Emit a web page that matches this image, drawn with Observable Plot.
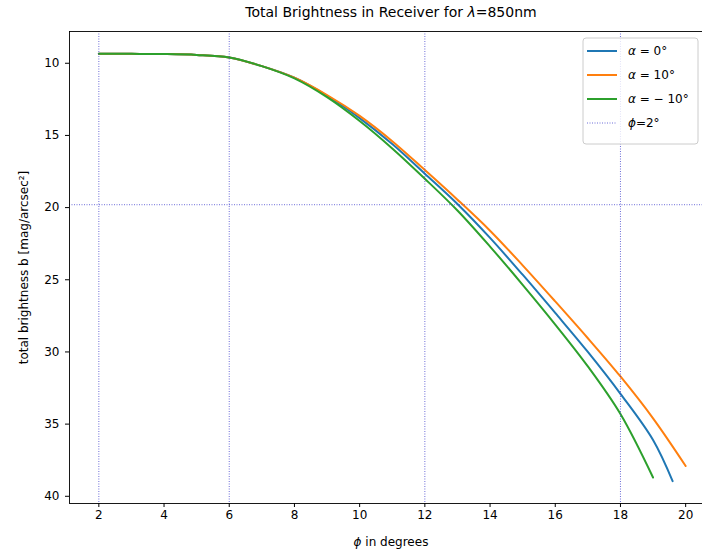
<!DOCTYPE html>
<html>
<head>
<meta charset="utf-8">
<script src="https://cdn.jsdelivr.net/npm/d3@7"></script>
<script src="https://cdn.jsdelivr.net/npm/@observablehq/plot@0.6"></script>
<style>
  html, body { margin: 0; padding: 0; background: white; }
  #chart svg { display: block; }
</style>
</head>
<body>
<div id="chart"></div>
<script>
// ---- data ----
const phiBlue   = [2,3,4,5,6,7,8,9,10,11,12,13,14,15,16,17,18,19,19.6];
const bBlue     = [9.35,9.35,9.36,9.42,9.6,10.2,11.0,12.25,13.8,15.6,17.65,19.75,22.1,24.65,27.3,30.0,32.9,36.1,38.95];
const phiOrange = [2,3,4,5,6,7,8,9,10,11,12,13,14,15,16,17,18,19,20];
const bOrange   = [9.35,9.35,9.36,9.42,9.6,10.2,11.0,12.2,13.65,15.4,17.4,19.45,21.6,24.0,26.5,29.05,31.7,34.6,37.9];
const phiGreen  = [2,3,4,5,6,7,8,9,10,11,12,13,14,15,16,17,18,19];
const bGreen    = [9.35,9.35,9.36,9.42,9.6,10.2,11.05,12.35,14.0,15.9,18.0,20.2,22.7,25.35,28.1,31.0,34.3,38.7];

const seriesNames  = ["α = 0°", "α = 10°", "α = −10°"];
const seriesColors = ["#1f77b4", "#ff7f0e", "#2ca02c"];
const vLines = [2, 6, 12, 18];
const hLines = [19.8];
const xTicks = [2,4,6,8,10,12,14,16,18,20];
const yTicks = [10,15,20,25,30,35,40];

const toRows = (xs, ys, s) => xs.map((x, i) => ({phi: x, b: ys[i], s}));
const rows = [
  ...toRows(phiBlue, bBlue, seriesNames[0]),
  ...toRows(phiOrange, bOrange, seriesNames[1]),
  ...toRows(phiGreen, bGreen, seriesNames[2])
];

const gridStyle = {stroke: "#3434c8", strokeOpacity: 0.9, strokeWidth: 0.8, strokeDasharray: "1,1.5"};

const plot = Plot.plot({
  width: 702,
  height: 554,
  marginLeft: 69,
  marginRight: -12.5,
  marginTop: 31,
  marginBottom: 51,
  style: {fontFamily: "DejaVu Sans", fontSize: "12px", color: "black", background: "white"},
  x: {domain: [1.1, 20.9]},
  y: {domain: [7.8, 40.5], reverse: true},
  color: {domain: seriesNames, range: seriesColors},
  marks: [
    Plot.line(rows, {x: "phi", y: "b", z: "s", stroke: "s", strokeWidth: 2, curve: "catmull-rom"}),
    Plot.ruleX(vLines, {...gridStyle}),
    Plot.ruleY(hLines, {...gridStyle}),
    Plot.frame({stroke: "black", strokeWidth: 0.9}),
    Plot.axisX({ticks: xTicks, tickSize: 4, tickPadding: 3, fontSize: 12, label: null}),
    Plot.axisY({ticks: yTicks, tickSize: 4, tickPadding: 6, fontSize: 12,
      label: "total brightness b [mag/arcsec²]", labelAnchor: "center", labelArrow: "none", labelOffset: 50})
  ]
});
document.getElementById("chart").appendChild(plot);

const svg = d3.select(plot);

// title
const t = svg.append("text")
  .attr("x", 391).attr("y", 17)
  .attr("text-anchor", "middle")
  .attr("font-family", "DejaVu Sans").attr("font-size", 14).attr("fill", "black");
t.append("tspan").text("Total Brightness in Receiver for ");
t.append("tspan").attr("font-style", "italic").text("λ");
t.append("tspan").text("=850nm");

// x axis label
const xl = svg.append("text")
  .attr("x", 391).attr("y", 546)
  .attr("text-anchor", "middle")
  .attr("font-family", "DejaVu Sans").attr("font-size", 12).attr("fill", "black");
xl.append("tspan").attr("font-style", "italic").text("ϕ");
xl.append("tspan").text(" in degrees");

// legend
const lg = svg.append("g").attr("font-family", "DejaVu Sans").attr("font-size", 12)
  .attr("text-anchor", "start");
lg.append("rect").attr("x", 583).attr("y", 38).attr("width", 115).attr("height", 106)
  .attr("rx", 3).attr("fill", "white").attr("fill-opacity", 0.8)
  .attr("stroke", "#cccccc").attr("stroke-width", 1);
const legendY = [51, 75, 99, 123];
const legendParts = [["α", " = 0°"], ["α", " = 10°"], ["α", " = − 10°"], ["ϕ", "=2°"]];
legendParts.forEach((p, i) => {
  const y = legendY[i];
  if (i < 3) {
    lg.append("line").attr("x1", 587).attr("x2", 617).attr("y1", y).attr("y2", y)
      .attr("stroke", seriesColors[i]).attr("stroke-width", 2);
  } else {
    lg.append("line").attr("x1", 587).attr("x2", 617).attr("y1", y).attr("y2", y)
      .attr("stroke", gridStyle.stroke).attr("stroke-opacity", 0.9)
      .attr("stroke-width", 0.8).attr("stroke-dasharray", "1,1.5");
  }
  const tx = lg.append("text").attr("x", 628).attr("y", y + 4).attr("fill", "black");
  tx.append("tspan").attr("font-style", "italic").text(p[0]);
  tx.append("tspan").text(p[1]);
});
</script>
</body>
</html>
